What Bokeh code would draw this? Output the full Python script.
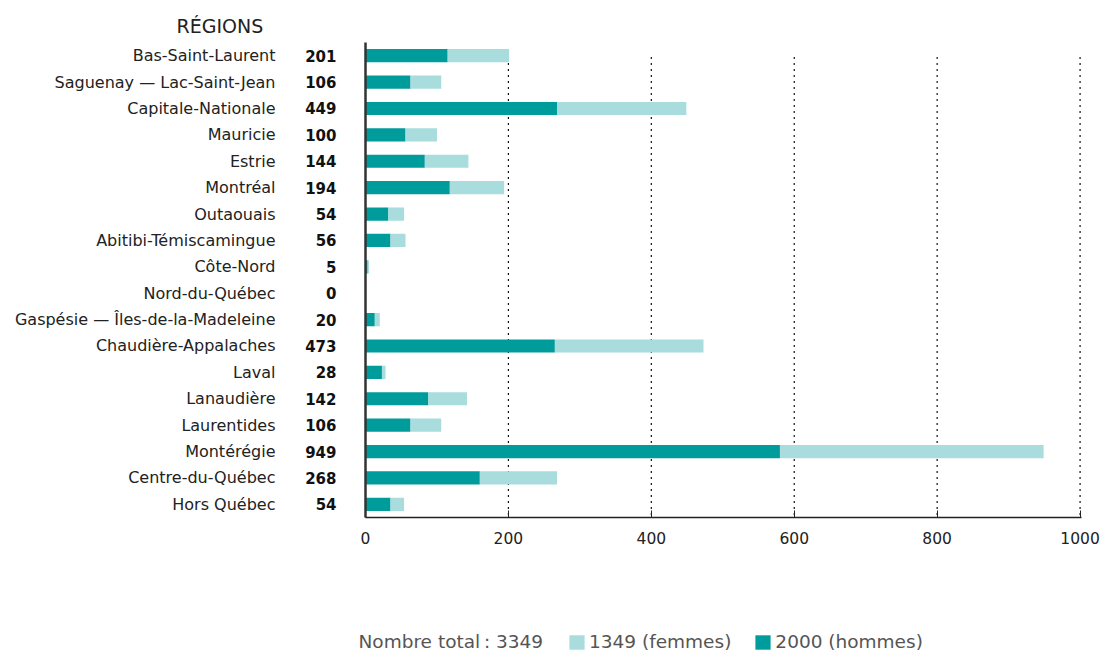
from bokeh.plotting import figure
from bokeh.layouts import column
from bokeh.models import (ColumnDataSource, Range1d, FixedTicker, LinearAxis,
                          Legend, LegendItem, Title, Label)
from bokeh.embed import file_html
from bokeh.resources import INLINE

# Répartition par région (hommes / femmes)
regions = [
    "Bas-Saint-Laurent", "Saguenay — Lac-Saint-Jean", "Capitale-Nationale",
    "Mauricie", "Estrie", "Montréal", "Outaouais", "Abitibi-Témiscamingue",
    "Côte-Nord", "Nord-du-Québec", "Gaspésie — Îles-de-la-Madeleine",
    "Chaudière-Appalaches", "Laval", "Lanaudière", "Laurentides",
    "Montérégie", "Centre-du-Québec", "Hors Québec",
]
totaux = [201, 106, 449, 100, 144, 194, 54, 56, 5, 0, 20, 473, 28, 142, 106, 949, 268, 54]
hommes = [115, 63, 268, 56, 83, 118, 32, 35, 3, 0, 13, 265, 23, 88, 63, 580, 160, 35]
x_ticks = [0, 200, 400, 600, 800, 1000]

femmes = [t - h for t, h in zip(totaux, hommes)]
total_general = sum(totaux)
total_hommes = sum(hommes)
total_femmes = sum(femmes)

DARK = "#009b9b"
LIGHT = "#a8dcdd"
FONT = "DejaVu Sans"

n = len(regions)
positions = list(range(n))

src = ColumnDataSource(dict(
    pos=positions,
    total=totaux,
    hommes=hommes,
    zero=[0] * n,
))

p = figure(width=1101, height=600, output_backend="svg", toolbar_location=None,
           x_range=Range1d(0, 1002), y_range=Range1d(n - 0.5, -0.5),
           min_border_left=365, min_border_right=20, min_border_top=42,
           min_border_bottom=83, title=None)
p.outline_line_color = None
p.xgrid.visible = False
p.ygrid.visible = False

# dotted reference lines
grid_src = ColumnDataSource(dict(x=x_ticks[1:], y0=[0.05] * 5, y1=[n - 0.5] * 5))
p.segment(x0="x", y0="y0", x1="x", y1="y1", source=grid_src,
          line_color="#111111", line_width=1.2, line_dash="2 4")

# stacked bars
r_h = p.hbar(y="pos", left="zero", right="hommes", height=0.5, source=src,
             fill_color=DARK, line_color=None)
r_f = p.hbar(y="pos", left="hommes", right="total", height=0.5, source=src,
             fill_color=LIGHT, line_color=None)

# bottom axis
p.xaxis.ticker = FixedTicker(ticks=x_ticks)
p.xaxis.axis_line_color = "#222222"
p.xaxis.axis_line_width = 1.5
p.xaxis.major_tick_in = 7
p.xaxis.major_tick_out = 0
p.xaxis.major_tick_line_color = "#222222"
p.xaxis.minor_tick_line_color = None
p.xaxis.major_label_text_font = FONT
p.xaxis.major_label_text_font_size = "15.5px"
p.xaxis.major_label_text_color = "#222222"
p.xaxis.major_label_standoff = 14

# inner left axis: totals in bold
ax_tot = p.yaxis[0]
ax_tot.ticker = FixedTicker(ticks=positions)
ax_tot.major_label_overrides = {i: str(t) for i, t in zip(positions, totaux)}
ax_tot.axis_line_color = "#333333"
ax_tot.axis_line_width = 2.5
ax_tot.major_tick_line_color = None
ax_tot.minor_tick_line_color = None
ax_tot.major_tick_in = 0
ax_tot.major_tick_out = 0
ax_tot.major_label_standoff = 29
ax_tot.major_label_text_font = FONT
ax_tot.major_label_text_font_size = "15px"
ax_tot.major_label_text_font_style = "bold"
ax_tot.major_label_text_color = "#111111"

# outer left axis: region names
ax_reg = LinearAxis(ticker=FixedTicker(ticks=positions),
                    major_label_overrides={i: r for i, r in zip(positions, regions)},
                    axis_line_color=None, major_tick_line_color=None,
                    minor_tick_line_color=None, major_tick_in=0, major_tick_out=0,
                    major_label_standoff=27, major_label_text_font=FONT,
                    major_label_text_font_size="16px",
                    major_label_text_color="#222222")
p.add_layout(ax_reg, "left")

# heading above the region names
p.add_layout(Title(text="RÉGIONS", align="left", offset=-189, standoff=12,
                   text_font=FONT, text_font_size="19px", text_font_style="normal",
                   text_color="#222222"), "above")

# legend row, drawn in its own axis-free strip under the chart
leg = figure(width=1101, height=52, output_backend="svg", toolbar_location=None,
             x_range=Range1d(0, 1101), y_range=Range1d(0, 52),
             x_axis_location=None, y_axis_location=None,
             min_border=0, min_border_left=0, min_border_right=0,
             min_border_top=0, min_border_bottom=0)
leg.grid.visible = False
leg.outline_line_color = None

# keep the strip's frame independent from the chart's frame when possible
if "frame_align" in type(leg).properties():
    leg.frame_align = False
    p.frame_align = False
    x0 = 0
else:
    x0 = 365

# swatch renderers (kept outside the visible strip)
k_f = leg.hbar(y=[-100], left=[0], right=[1], height=1, fill_color=LIGHT, line_color=None)
k_h = leg.hbar(y=[-100], left=[0], right=[1], height=1, fill_color=DARK, line_color=None)

leg.add_layout(Label(x=max(358 - x0, 0), y=11, x_units="screen", y_units="screen",
                     text=f"Nombre total\u202f: {total_general}",
                     text_align="left", text_baseline="middle", text_font=FONT,
                     text_font_size="18.5px", text_color="#555555"))

legend = Legend(items=[
    LegendItem(label=f"{total_femmes} (femmes)", renderers=[k_f]),
    LegendItem(label=f"{total_hommes} (hommes)", renderers=[k_h]),
], orientation="horizontal", location=(567 - x0, 0), glyph_width=19, glyph_height=18,
    label_standoff=3, spacing=22, padding=0, margin=0, border_line_color=None,
    background_fill_alpha=0, label_text_font=FONT, label_text_font_size="18.5px",
    label_text_color="#555555")
leg.add_layout(legend)

layout = column(p, leg, spacing=0)
open("out.html", "w").write(file_html(layout, INLINE))
